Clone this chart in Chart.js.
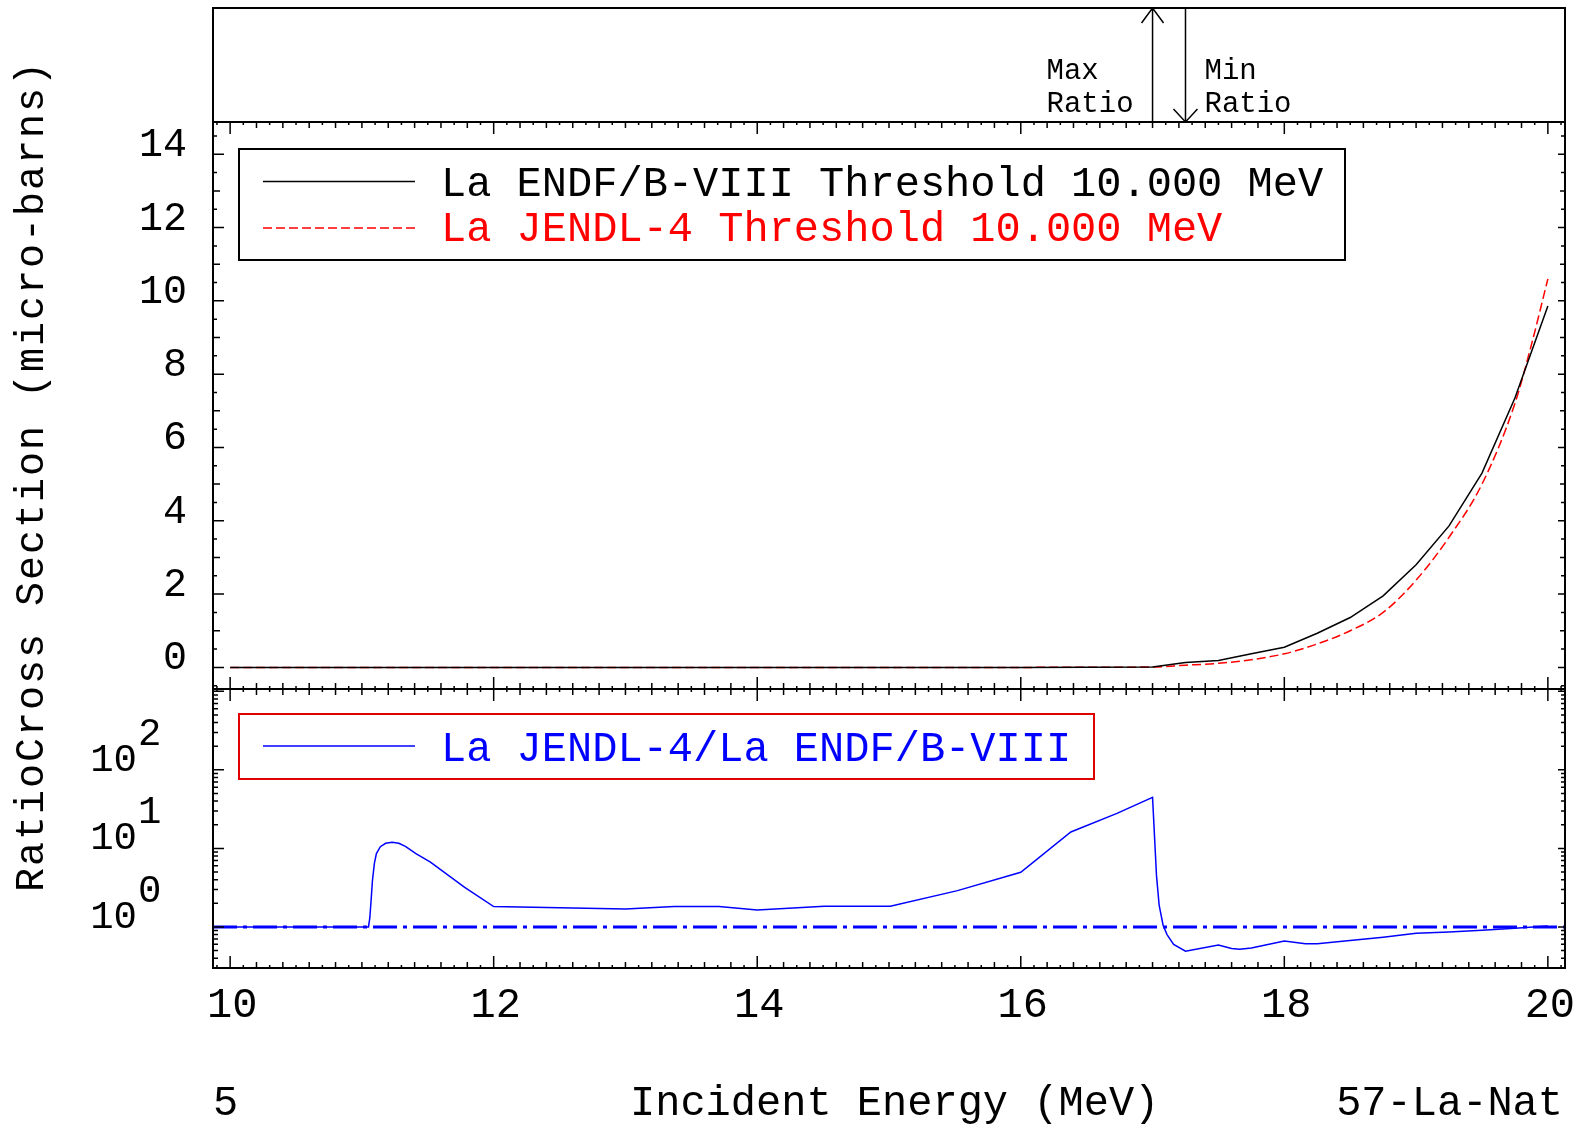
<!DOCTYPE html>
<html>
<head>
<meta charset="utf-8">
<title>57-La-Nat cross section comparison</title>
<script src="https://cdn.jsdelivr.net/npm/chart.js@4.4.1/dist/chart.umd.min.js"></script>
<style>
  html, body { margin: 0; padding: 0; background: #fff; }
  canvas { display: block; }
</style>
</head>
<body>
<canvas id="chart" width="1581" height="1128"></canvas>
<script>
// ENDF/B-VIII cross section (micro-barns) vs incident energy (MeV)
const endfEnergy = [10, 11, 12, 13, 14, 15, 16, 17, 17.25, 17.5, 17.75, 18, 18.25, 18.5, 18.75, 19, 19.25, 19.5, 19.75, 20];
const endfXs = [0, 0, 0, 0, 0, 0, 0, 0.01, 0.13, 0.19, 0.37, 0.55, 0.93, 1.36, 1.95, 2.8, 3.86, 5.3, 7.35, 9.86];

// JENDL-4 cross section (micro-barns)
const jendlEnergy = [10, 11, 12, 13, 14, 15, 16, 17, 17.25, 17.5, 17.75, 18, 18.25, 18.5, 18.75, 19, 19.25, 19.5, 19.75, 19.875, 20];
const jendlXs = [0, 0, 0, 0, 0, 0, 0, 0.01, 0.06, 0.11, 0.21, 0.37, 0.64, 1.0, 1.5, 2.38, 3.55, 5.0, 7.2, 8.8, 10.6];

// JENDL-4 / ENDF/B-VIII ratio
const ratioEnergy = [10, 11.05, 11.06, 11.07, 11.08, 11.095, 11.11, 11.14, 11.18, 11.23, 11.28, 11.33, 11.41, 11.52, 11.78, 12.0,
  13.0, 13.37, 13.71, 14.0, 14.51, 15.01, 15.52, 16.0, 16.38, 16.73, 17.0,
  17.03, 17.05, 17.08, 17.11, 17.16, 17.25, 17.5, 17.6, 17.66, 17.75, 18.0, 18.16, 18.25, 18.46,
  18.75, 19.0, 19.25, 19.5, 19.75, 20.0];
const ratioValues = [1.0, 1.0, 1.3, 2.2, 3.9, 6.5, 8.6, 10.5, 11.6, 12.0, 11.6, 10.6, 8.6, 6.7, 3.19, 1.82,
  1.69, 1.82, 1.82, 1.64, 1.84, 1.84, 2.9, 4.97, 16.2, 27.9, 44.7,
  4.5, 1.9, 1.05, 0.8, 0.6, 0.49, 0.59, 0.53, 0.52, 0.54, 0.66, 0.61, 0.61, 0.66,
  0.74, 0.83, 0.86, 0.91, 0.96, 1.03];

// axis ranges and labels
const energyMin = 9.87, energyMax = 20.13;
const energyTicks = [10, 12, 14, 16, 18, 20];
const xsTicks = [0, 2, 4, 6, 8, 10, 12, 14];
const ratioTicks = [1, 10, 100];
const unityRatio = [1, 1];

const seriesLabels = [
  'La ENDF/B-VIII Threshold 10.000 MeV',
  'La JENDL-4 Threshold 10.000 MeV',
  'La JENDL-4/La ENDF/B-VIII'
];

const MONO = '"Liberation Mono", "DejaVu Sans Mono", monospace';

function toPoints(xs, ys) {
  return xs.map((x, i) => ({ x: x, y: ys[i] }));
}

// frame, ticks, labels, legends and the max/min ratio arrows
const plotDecor = {
  id: 'plotDecor',
  beforeDraw(chart) {
    const ctx = chart.ctx;
    ctx.save();
    ctx.fillStyle = '#fff';
    ctx.fillRect(0, 0, chart.width, chart.height);
    ctx.restore();
  },
  afterDraw(chart) {
    const ctx = chart.ctx;
    const x = chart.scales.x;
    const yTop = chart.scales.yTop;
    const y = chart.scales.y;
    const yr = chart.scales.yRatio;
    const left = x.left, right = x.right;

    ctx.save();
    ctx.strokeStyle = '#000';
    ctx.fillStyle = '#000';

    // x ticks every 0.1 MeV
    ctx.lineWidth = 1.5;
    ctx.beginPath();
    for (let k = Math.ceil(energyMin * 10); k <= Math.floor(energyMax * 10); k++) {
      const px = x.getPixelForValue(k / 10);
      const len = k % 20 === 0 ? 12 : (k % 2 === 0 ? 6 : 3);
      ctx.moveTo(px, y.top); ctx.lineTo(px, y.top + len);
      ctx.moveTo(px, y.bottom); ctx.lineTo(px, y.bottom - len);
      ctx.moveTo(px, yr.top); ctx.lineTo(px, yr.top + len);
      ctx.moveTo(px, yr.bottom); ctx.lineTo(px, yr.bottom - len);
    }
    // cross section ticks every 0.5
    for (let k = Math.ceil(y.min * 2); k <= Math.floor(y.max * 2); k++) {
      const py = y.getPixelForValue(k / 2);
      const lenL = k % 4 === 0 ? 11 : (k % 2 === 0 ? 7 : 4);
      const lenR = k % 4 === 0 ? 7 : (k % 2 === 0 ? 5 : 4);
      ctx.moveTo(left, py); ctx.lineTo(left + lenL, py);
      ctx.moveTo(right, py); ctx.lineTo(right - lenR, py);
    }
    // log ticks
    for (let d = -1; d <= 3; d++) {
      for (let m = 1; m <= 9; m++) {
        const v = m * Math.pow(10, d);
        if (v < yr.min || v > yr.max) continue;
        const py = yr.getPixelForValue(v);
        ctx.moveTo(left, py); ctx.lineTo(left + (m === 1 ? 11 : 5), py);
        ctx.moveTo(right, py); ctx.lineTo(right - (m === 1 ? 7 : 4), py);
      }
    }
    ctx.stroke();

    // panel frames
    ctx.lineWidth = 2;
    [yTop, y, yr].forEach(s => ctx.strokeRect(left, s.top, right - left, s.bottom - s.top));

    // x tick labels
    ctx.font = '42px ' + MONO;
    ctx.textAlign = 'center';
    ctx.textBaseline = 'alphabetic';
    energyTicks.forEach(v => ctx.fillText(String(v), x.getPixelForValue(v) + 2, 1017));

    // cross section tick labels
    ctx.font = '40px ' + MONO;
    ctx.textAlign = 'right';
    xsTicks.forEach(v => ctx.fillText(String(v), left - 26, y.getPixelForValue(v) + 2));

    // ratio tick labels, 10 with a raised exponent
    ctx.font = '39px ' + MONO;
    ratioTicks.forEach(v => {
      const py = yr.getPixelForValue(v);
      ctx.textAlign = 'right';
      ctx.fillText('10', left - 76, py + 1);
      ctx.textAlign = 'left';
      ctx.fillText(String(Math.round(Math.log10(v))), left - 75, py - 25);
    });

    // left axis title
    ctx.save();
    ctx.font = '40px ' + MONO;
    ctx.letterSpacing = '2px';
    ctx.textAlign = 'left';
    ctx.translate(43, 892);
    ctx.rotate(-Math.PI / 2);
    ctx.fillText('RatioCross Section (micro-barns)', 0, 0);
    ctx.restore();

    // bottom line
    ctx.font = '42px ' + MONO;
    ctx.textAlign = 'left';
    ctx.fillText('5', left, 1115);
    ctx.fillText('Incident Energy (MeV)', 630, 1115);
    ctx.textAlign = 'right';
    ctx.fillText('57-La-Nat', right - 2, 1115);

    // max / min ratio arrows
    let iMax = 0, iMin = 0;
    ratioValues.forEach((r, i) => {
      if (r > ratioValues[iMax]) iMax = i;
      if (r < ratioValues[iMin]) iMin = i;
    });
    const axMax = x.getPixelForValue(ratioEnergy[iMax]);
    const axMin = x.getPixelForValue(ratioEnergy[iMin]);
    ctx.lineWidth = 1.5;
    ctx.beginPath();
    ctx.moveTo(axMax, yTop.bottom); ctx.lineTo(axMax, yTop.top);
    ctx.moveTo(axMax - 11, yTop.top + 15); ctx.lineTo(axMax, yTop.top); ctx.lineTo(axMax + 11, yTop.top + 15);
    ctx.moveTo(axMin, yTop.top); ctx.lineTo(axMin, yTop.bottom);
    ctx.moveTo(axMin - 12, yTop.bottom - 13); ctx.lineTo(axMin, yTop.bottom); ctx.lineTo(axMin + 12, yTop.bottom - 13);
    ctx.stroke();
    ctx.font = '29px ' + MONO;
    ctx.textAlign = 'left';
    ctx.fillText('Max', axMax - 106, 79);
    ctx.fillText('Ratio', axMax - 106, 112);
    ctx.fillText('Min', axMin + 19, 79);
    ctx.fillText('Ratio', axMin + 19, 112);

    // legends
    const ds = chart.data.datasets;
    function legendRow(d, rowY, baseY) {
      ctx.save();
      ctx.strokeStyle = d.borderColor;
      ctx.lineWidth = 1.5;
      ctx.setLineDash(d.borderDash || []);
      ctx.beginPath();
      ctx.moveTo(263, rowY); ctx.lineTo(415, rowY);
      ctx.stroke();
      ctx.restore();
      ctx.fillStyle = d.borderColor;
      ctx.font = '42px ' + MONO;
      ctx.textAlign = 'left';
      ctx.fillText(d.label, 441, baseY);
    }
    ctx.lineWidth = 2;
    ctx.strokeStyle = '#000';
    ctx.strokeRect(239, 149, 1106, 111);
    legendRow(ds[0], 181.5, 196);
    legendRow(ds[1], 228, 241);
    ctx.strokeStyle = '#e00000';
    ctx.strokeRect(239, 714, 855, 65);
    legendRow(ds[2], 746, 761);

    ctx.restore();
  }
};

const hidden = {
  ticks: { display: false },
  grid: { display: false },
  border: { display: false }
};

const ctx = document.getElementById('chart').getContext('2d');
new Chart(ctx, {
  type: 'line',
  data: {
    datasets: [
      {
        label: seriesLabels[0],
        data: toPoints(endfEnergy, endfXs),
        yAxisID: 'y',
        borderColor: '#000000',
        borderWidth: 1.5,
        pointRadius: 0,
        tension: 0
      },
      {
        label: seriesLabels[1],
        data: toPoints(jendlEnergy, jendlXs),
        yAxisID: 'y',
        borderColor: '#ff0000',
        borderWidth: 1.5,
        borderDash: [9, 4],
        pointRadius: 0,
        cubicInterpolationMode: 'monotone'
      },
      {
        label: seriesLabels[2],
        data: toPoints(ratioEnergy, ratioValues),
        yAxisID: 'yRatio',
        borderColor: '#0000ff',
        borderWidth: 1.5,
        pointRadius: 0,
        tension: 0
      },
      {
        label: 'unity',
        data: toPoints([energyMin, energyMax], unityRatio),
        yAxisID: 'yRatio',
        borderColor: '#0000ff',
        borderWidth: 3,
        borderDash: [24, 6, 4, 6],
        pointRadius: 0
      }
    ]
  },
  options: {
    responsive: false,
    animation: false,
    layout: { padding: { top: 8, right: 16, left: 0, bottom: 0 } },
    plugins: {
      legend: { display: false },
      tooltip: { enabled: false }
    },
    scales: {
      x: Object.assign({
        type: 'linear',
        position: 'bottom',
        min: energyMin,
        max: energyMax,
        afterFit: s => { s.height = 160; }
      }, hidden),
      yTop: Object.assign({
        type: 'linear',
        position: 'left',
        stack: 'panels',
        stackWeight: 114,
        weight: 3,
        min: 0,
        max: 1,
        afterFit: s => { s.width = 213; }
      }, hidden),
      y: Object.assign({
        type: 'linear',
        position: 'left',
        stack: 'panels',
        stackWeight: 567,
        weight: 2,
        min: -0.59,
        max: 14.88,
        afterFit: s => { s.width = 213; }
      }, hidden),
      yRatio: Object.assign({
        type: 'logarithmic',
        position: 'left',
        stack: 'panels',
        stackWeight: 279,
        weight: 1,
        min: 0.3,
        max: 1070,
        afterFit: s => { s.width = 213; }
      }, hidden)
    }
  },
  plugins: [plotDecor]
});
</script>
</body>
</html>
